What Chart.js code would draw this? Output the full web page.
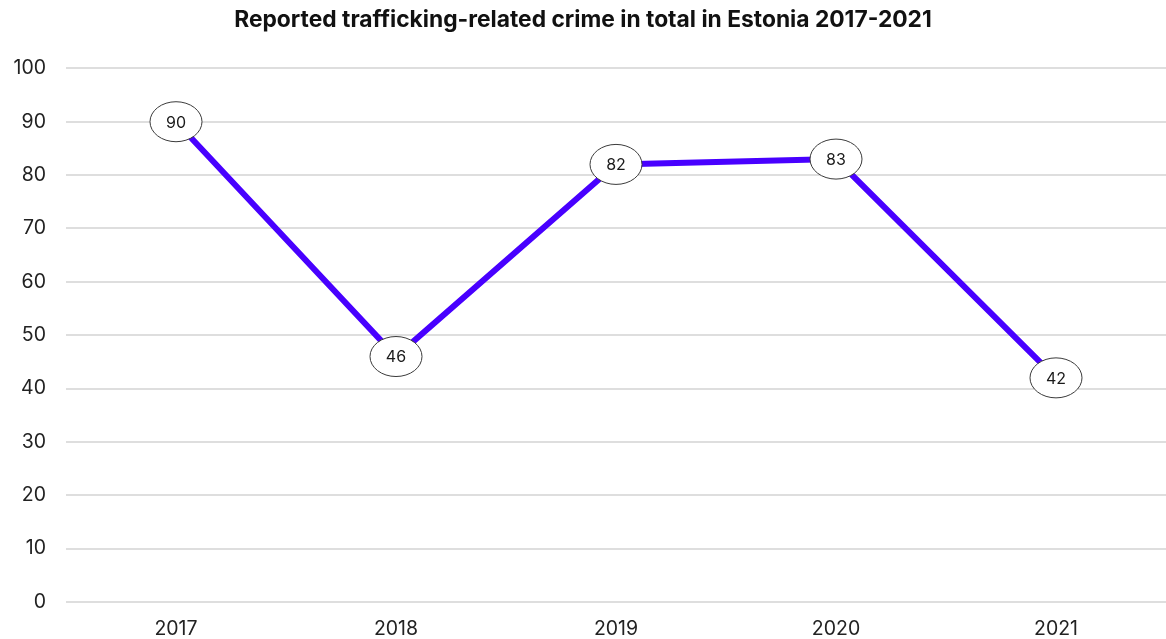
<!DOCTYPE html>
<html>
<head>
<meta charset="utf-8">
<script src="https://cdn.jsdelivr.net/npm/chart.js@4/dist/chart.umd.min.js"></script>
<style>
  html, body { margin: 0; padding: 0; background: #fff; }
  #wrap { width: 1166px; height: 639px; }
</style>
</head>
<body>
<div id="wrap"><canvas id="crimes"></canvas></div>
<script>
const years = ["2017", "2018", "2019", "2020", "2021"];
const totalCases = [90, 46, 82, 83, 42];
const yTicks = [0, 10, 20, 30, 40, 50, 60, 70, 80, 90, 100];

const FONT = "Inter, 'Open Sans', sans-serif";

// value bubbles drawn on top of each point
const ellipseLabels = {
  id: "ellipseLabels",
  afterDatasetsDraw(chart) {
    const ctx = chart.ctx;
    const meta = chart.getDatasetMeta(0);
    ctx.save();
    meta.data.forEach((pt, i) => {
      ctx.beginPath();
      ctx.ellipse(pt.x, pt.y, 26, 20, 0, 0, Math.PI * 2);
      ctx.fillStyle = "#ffffff";
      ctx.fill();
      ctx.lineWidth = 1;
      ctx.strokeStyle = "#3a3a3a";
      ctx.stroke();
      ctx.fillStyle = "#1a1a1a";
      ctx.font = "16px " + FONT;
      ctx.textAlign = "center";
      ctx.textBaseline = "middle";
      ctx.fillText(String(totalCases[i]), pt.x, pt.y + 1);
    });
    ctx.restore();
  }
};

new Chart(document.getElementById("crimes").getContext("2d"), {
  type: "line",
  data: {
    labels: years,
    datasets: [{
      label: "Reported crimes",
      data: totalCases,
      borderColor: "#4800ff",
      borderWidth: 6,
      tension: 0,
      pointRadius: 0,
      fill: false
    }]
  },
  plugins: [ellipseLabels],
  options: {
    responsive: true,
    maintainAspectRatio: false,
    animation: false,
    layout: { padding: { top: 0, right: 0, bottom: 0, left: 0 } },
    plugins: {
      legend: { display: false },
      tooltip: { enabled: false },
      title: {
        display: true,
        text: "Reported trafficking-related crime in total in Estonia 2017-2021",
        color: "#111",
        font: { family: FONT, size: 22.8, weight: "bold" },
        padding: { top: 6, bottom: 35 }
      }
    },
    scales: {
      x: {
        offset: true,
        grid: { display: false, drawTicks: false },
        border: { display: false },
        ticks: {
          color: "#222",
          font: { family: FONT, size: 19.5 },
          padding: 15
        },
        afterFit(s) { s.height = 37; }
      },
      y: {
        min: 0,
        max: 100,
        afterBuildTicks(s) { s.ticks = yTicks.map(v => ({ value: v })); },
        grid: { color: "#dedede", lineWidth: 2, drawTicks: false },
        border: { display: false },
        ticks: {
          color: "#222",
          font: { family: FONT, size: 19.5 },
          padding: 20
        },
        afterFit(s) { s.width = 66; }
      }
    }
  }
});
</script>
</body>
</html>
